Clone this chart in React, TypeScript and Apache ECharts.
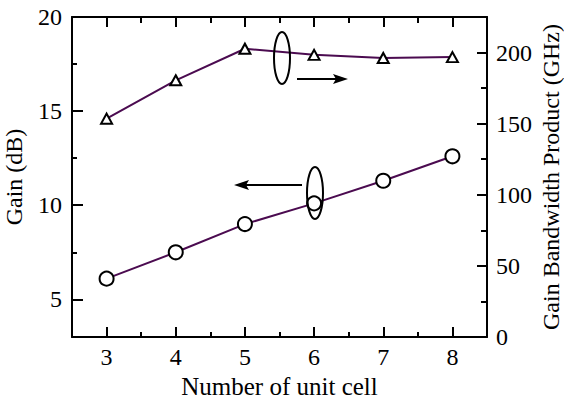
import React, { useEffect, useRef } from "react";
import * as echarts from "echarts";

const cells = [3, 4, 5, 6, 7, 8];
const gainDb = [6.1, 7.5, 9.0, 10.1, 11.3, 12.6];
const gbpGHz = [153.5, 180.5, 202.7, 198.4, 196.2, 196.8];

const xMajor = [3, 4, 5, 6, 7, 8];
const xMinor = [3.5, 4.5, 5.5, 6.5, 7.5];
const leftMajor = [5, 10, 15, 20];
const leftMinor = [7.5, 12.5, 17.5];
const rightMajor = [0, 50, 100, 150, 200];
const rightMinor = [25, 75, 125, 175];

const rightTitle = "Gain Bandwidth Product (GHz)";

const FONT = "'Liberation Serif', 'Times New Roman', Times, serif";
const LINE = "#4b0b50";

export default function App() {
  const ref = useRef<HTMLDivElement>(null);
  useEffect(() => {
    document.body.style.margin = "0";
    const chart = echarts.init(ref.current!, null, { renderer: "svg" });
    const axisLine = { show: true, lineStyle: { color: "#000", width: 2 } };
    const noLine = { show: false };
    const label = (vals: number[], show: boolean, margin: number) => ({
      show,
      customValues: vals,
      color: "#000",
      fontFamily: FONT,
      fontSize: 24,
      margin,
    });
    const tick = (vals: number[], len: number) => ({
      show: true,
      inside: true,
      length: len,
      customValues: vals,
      lineStyle: { color: "#000", width: 2 },
    });
    const xBase = { type: "value", min: 2.5, max: 8.5, splitLine: { show: false } };
    const leftBase = { type: "value", min: 3, max: 20, position: "left", splitLine: { show: false } };
    const rightBase = { type: "value", min: 0, max: 225, position: "right", splitLine: { show: false } };

    const pairs = (ys: number[]) => cells.map((c, i) => [c, ys[i]]);

    chart.setOption({
      animation: false,
      grid: { left: 72, right: 77, top: 17, bottom: 62, outerBoundsMode: "none" },
      xAxis: [
        {
          ...xBase,
          position: "bottom",
          axisLine,
          axisTick: tick(xMajor, 10),
          axisLabel: label(xMajor, true, 8),
          name: "Number of unit cell",
          nameLocation: "middle",
          nameGap: 31,
          nameTextStyle: { color: "#000", fontFamily: FONT, fontSize: 25, lineHeight: 25 },
        },
        { ...xBase, position: "bottom", axisLine: noLine, axisTick: tick(xMinor, 5), axisLabel: { show: false } },
        { ...xBase, position: "top", axisLine, axisTick: tick(xMajor, 10), axisLabel: { show: false } },
        { ...xBase, position: "top", axisLine: noLine, axisTick: tick(xMinor, 6), axisLabel: { show: false } },
      ],
      yAxis: [
        {
          ...leftBase,
          axisLine,
          axisTick: tick(leftMajor, 11),
          axisLabel: label(leftMajor, true, 10),
          name: "Gain (dB)",
          nameLocation: "middle",
          nameGap: 46,
          nameTextStyle: { color: "#000", fontFamily: FONT, fontSize: 24, lineHeight: 24 },
        },
        { ...leftBase, axisLine: noLine, axisTick: tick(leftMinor, 5), axisLabel: { show: false } },
        {
          ...rightBase,
          axisLine,
          axisTick: tick(rightMajor, 10),
          axisLabel: label(rightMajor, true, 9),
        },
        { ...rightBase, axisLine: noLine, axisTick: tick(rightMinor, 6), axisLabel: { show: false } },
      ],
      series: [
        {
          type: "line",
          xAxisIndex: 0,
          yAxisIndex: 0,
          data: pairs(gainDb),
          symbol: "circle",
          symbolSize: 14,
          lineStyle: { color: LINE, width: 2 },
          itemStyle: { color: "#fff", borderColor: "#000", borderWidth: 2 },
          z: 3,
        },
        {
          type: "line",
          xAxisIndex: 0,
          yAxisIndex: 2,
          data: pairs(gbpGHz),
          symbol: "triangle",
          symbolSize: [11, 10],
          lineStyle: { color: LINE, width: 2 },
          itemStyle: { color: "#fff", borderColor: "#000", borderWidth: 2 },
          z: 3,
        },
      ],
      graphic: [
        {
          type: "text",
          x: 551,
          y: 177,
          rotation: Math.PI / 2,
          style: {
            text: rightTitle,
            fill: "#000",
            fontFamily: FONT,
            fontSize: 24,
            align: "center",
            verticalAlign: "middle",
          },
          z: 10,
        },
        { type: "ellipse", shape: { cx: 282, cy: 58, rx: 8, ry: 26 }, style: { fill: "none", stroke: "#000", lineWidth: 2 }, z: 10 },
        { type: "line", shape: { x1: 297, y1: 79, x2: 340, y2: 79 }, style: { stroke: "#000", lineWidth: 2 }, z: 10 },
        { type: "polygon", shape: { points: [[348, 79], [333, 74], [336, 79], [333, 84]] }, style: { fill: "#000" }, z: 10 },
        { type: "ellipse", shape: { cx: 315, cy: 193, rx: 8, ry: 26 }, style: { fill: "none", stroke: "#000", lineWidth: 2 }, z: 10 },
        { type: "line", shape: { x1: 302, y1: 185, x2: 242, y2: 185 }, style: { stroke: "#000", lineWidth: 2 }, z: 10 },
        { type: "polygon", shape: { points: [[234, 185], [249, 180], [246, 185], [249, 190]] }, style: { fill: "#000" }, z: 10 },
      ],
    });
    return () => chart.dispose();
  }, []);
  return <div ref={ref} style={{ width: 564, height: 399 }} />;
}
